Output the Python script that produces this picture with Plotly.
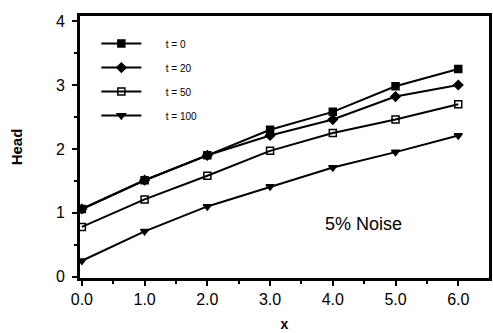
import plotly.graph_objects as go

x_vals = [0.0, 1.0, 2.0, 3.0, 4.0, 5.0, 6.0]
t0 = [1.06, 1.51, 1.90, 2.30, 2.58, 2.98, 3.25]
t20 = [1.06, 1.51, 1.90, 2.21, 2.46, 2.82, 3.00]
t50 = [0.78, 1.21, 1.58, 1.97, 2.25, 2.46, 2.70]
t100 = [0.25, 0.71, 1.10, 1.41, 1.71, 1.95, 2.21]
names = ["t = 0", "t = 20", "t = 50", "t = 100"]
symbols = ["square", "diamond", "square-open", "triangle-down"]
series = [t0, t20, t50, t100]

fig = go.Figure()
for name, sym, ys in zip(names, symbols, series):
    fig.add_trace(go.Scatter(
        x=x_vals, y=ys, mode="lines+markers",
        name="&nbsp;&nbsp;&nbsp;&nbsp;&nbsp;&nbsp;&nbsp;" + name,
        legendgroup=name,
        line=dict(color="black", width=2),
        marker=dict(symbol=sym, size=7, color="black",
                    line=dict(color="black", width=1.5)),
    ))

FONT = "Liberation Sans"
fig.update_layout(
    width=493, height=333,
    margin=dict(l=80, r=4, t=16, b=55),
    plot_bgcolor="white", paper_bgcolor="white",
    font=dict(family=FONT, color="black", size=16),
    showlegend=True,
    legend=dict(x=0.04, y=0.95, xanchor="left", yanchor="top",
                bgcolor="rgba(0,0,0,0)", font=dict(size=10, family=FONT),
                tracegroupgap=5, itemwidth=40),
    annotations=[dict(x=4.49, y=0.82, xref="x", yref="y", text="5% Noise",
                      showarrow=False, font=dict(size=18, family=FONT))],
)
fig.update_xaxes(
    range=[-0.03, 6.49], tickvals=x_vals,
    ticktext=["0.0", "1.0", "2.0", "3.0", "4.0", "5.0", "6.0"],
    ticks="outside", ticklen=5, tickwidth=2, tickcolor="black",
    minor=dict(dtick=0.5, tick0=0, ticks="outside", ticklen=3, tickwidth=1.5, tickcolor="black"),
    showline=True, linecolor="black", linewidth=3, mirror=True,
    showgrid=False, zeroline=False, automargin=False,
    title=dict(text="<b>x</b>", font=dict(size=14), standoff=12),
    tickfont=dict(size=16),
)
fig.update_yaxes(
    range=[-0.02, 4.08], tickvals=[0, 1, 2, 3, 4],
    ticks="outside", ticklen=5, tickwidth=2, tickcolor="black",
    minor=dict(dtick=0.5, tick0=0, ticks="outside", ticklen=3, tickwidth=1.5, tickcolor="black"),
    showline=True, linecolor="black", linewidth=3, mirror=True,
    showgrid=False, zeroline=False, automargin=False,
    ticklabelstandoff=4,
    title=dict(text="<b>Head</b>", font=dict(size=15), standoff=30),
    tickfont=dict(size=16),
)
fig.write_html("out.html", config={"displayModeBar": False},
               post_script="document.body.style.margin='0';")
